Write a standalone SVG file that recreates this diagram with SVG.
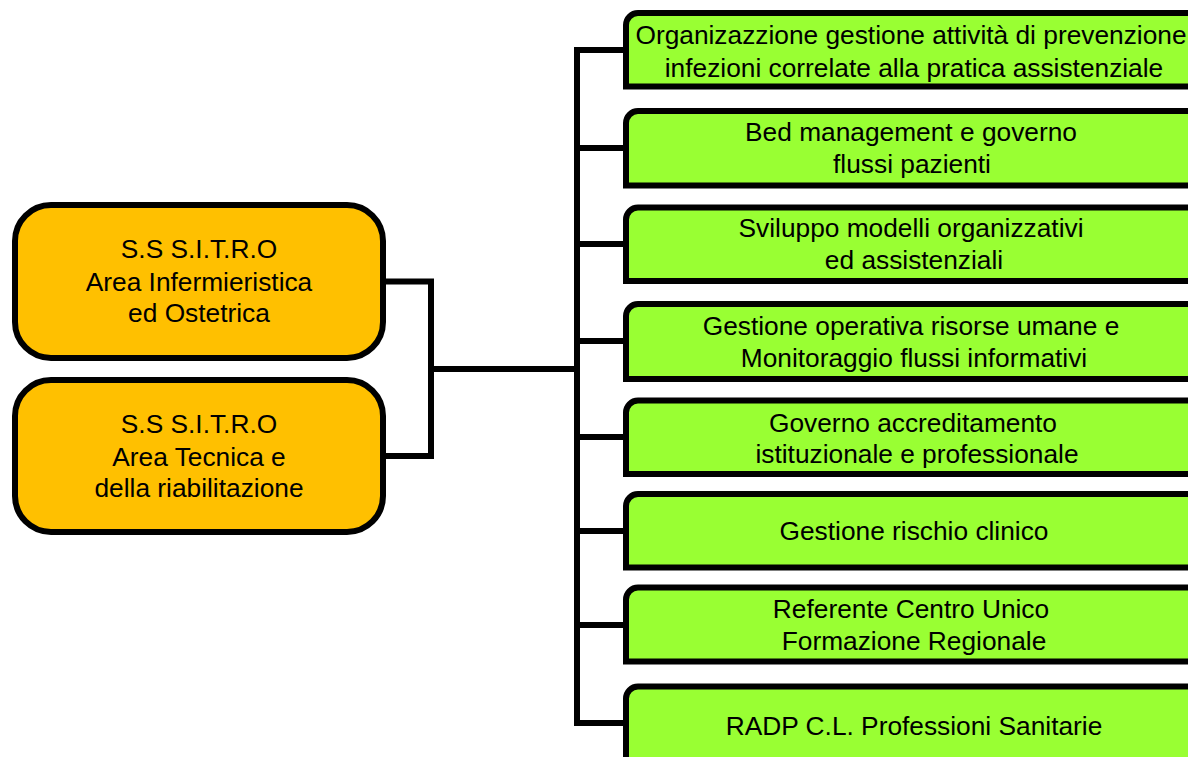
<svg xmlns="http://www.w3.org/2000/svg" width="1188" height="757" viewBox="0 0 1188 757">
<style>
.lbox{fill:#FFC000;stroke:#000;stroke-width:6}
.rbox{fill:#99FF33;stroke:#000;stroke-width:6}
.conn{fill:none;stroke:#000;stroke-width:6}
text{font-family:"Liberation Sans",Arial,sans-serif;font-size:26.3px;fill:#000;text-anchor:middle}
</style>
<rect width="1188" height="757" fill="#fff"/>
<g id="connectors">
<path class="conn" d="M386,281.5 H431 V456 H386"/>
<path class="conn" d="M431,369 H577"/>
<path class="conn" d="M626,50 H577 V723 H626"/>
<path class="conn" d="M577,148 H626"/>
<path class="conn" d="M577,244 H626"/>
<path class="conn" d="M577,341 H626"/>
<path class="conn" d="M577,437 H626"/>
<path class="conn" d="M577,531 H626"/>
<path class="conn" d="M577,625 H626"/>
</g>
<g id="sitro-inf">
<rect class="lbox" x="15" y="205" width="368" height="153" rx="36"/>
<text x="199" y="258">S.S S.I.T.R.O</text>
<text x="199" y="291">Area Infermieristica</text>
<text x="199" y="322">ed Ostetrica</text>
</g>
<g id="sitro-tec">
<rect class="lbox" x="15" y="380" width="368" height="152" rx="36"/>
<text x="199" y="433">S.S S.I.T.R.O</text>
<text x="199" y="466">Area Tecnica e</text>
<text x="199" y="497">della riabilitazione</text>
</g>
<g id="n1">
<path class="rbox" d="M1200,86.5 H626 V25 A12,12 0 0 1 638,13 H1200 Z"/>
<text x="911" y="44">Organizazzione gestione attività di prevenzione</text>
<text x="914" y="77">infezioni correlate alla pratica assistenziale</text>
</g>
<g id="n2">
<path class="rbox" d="M1200,185.5 H626 V123 A12,12 0 0 1 638,111 H1200 Z"/>
<text x="911" y="141">Bed management e governo</text>
<text x="912" y="173">flussi pazienti</text>
</g>
<g id="n3">
<path class="rbox" d="M1200,281 H626 V219.5 A12,12 0 0 1 638,207.5 H1200 Z"/>
<text x="911" y="237">Sviluppo modelli organizzativi</text>
<text x="914" y="269">ed assistenziali</text>
</g>
<g id="n4">
<path class="rbox" d="M1200,379 H626 V316 A12,12 0 0 1 638,304 H1200 Z"/>
<text x="911" y="335">Gestione operativa risorse umane e</text>
<text x="914" y="367">Monitoraggio flussi informativi</text>
</g>
<g id="n5">
<path class="rbox" d="M1200,474 H626 V412.5 A12,12 0 0 1 638,400.5 H1200 Z"/>
<text x="913" y="432">Governo accreditamento</text>
<text x="917" y="463">istituzionale e professionale</text>
</g>
<g id="n6">
<path class="rbox" d="M1200,567.5 H626 V506 A12,12 0 0 1 638,494 H1200 Z"/>
<text x="914" y="540">Gestione rischio clinico</text>
</g>
<g id="n7">
<path class="rbox" d="M1200,661.5 H626 V599.5 A12,12 0 0 1 638,587.5 H1200 Z"/>
<text x="911" y="618">Referente Centro Unico</text>
<text x="914" y="650">Formazione Regionale</text>
</g>
<g id="n8">
<path class="rbox" d="M1200,770 H626 V698.5 A12,12 0 0 1 638,686.5 H1200 Z"/>
<text x="914" y="735">RADP C.L. Professioni Sanitarie</text>
</g>
</svg>
